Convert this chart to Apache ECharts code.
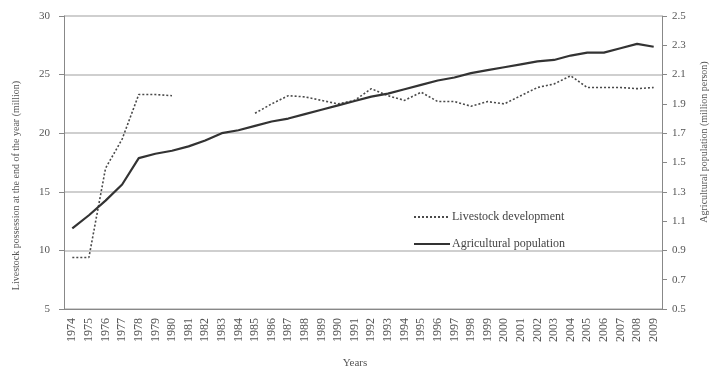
<!DOCTYPE html>
<html>
<head>
<meta charset="utf-8">
<script src="https://cdn.jsdelivr.net/npm/echarts@6/dist/echarts.min.js"></script>
<style>
  html, body { margin: 0; padding: 0; background: #ffffff; }
  #chart { width: 720px; height: 371px; }
</style>
</head>
<body>
<div id="chart"></div>
<script>
// Years on the category axis
const years = ['1974','1975','1976','1977','1978','1979','1980','1981','1982','1983',
  '1984','1985','1986','1987','1988','1989','1990','1991','1992','1993',
  '1994','1995','1996','1997','1998','1999','2000','2001','2002','2003',
  '2004','2005','2006','2007','2008','2009'];

// Livestock (left axis); 1981-1984 have no record
const livestock = [9.4, 9.4, 17.0, 19.5, 23.3, 23.3, 23.2, null, null, null,
  null, 21.7, 22.5, 23.2, 23.1, 22.8, 22.5, 22.8, 23.8, 23.2,
  22.8, 23.5, 22.7, 22.7, 22.3, 22.7, 22.5, 23.2, 23.9, 24.2,
  24.9, 23.9, 23.9, 23.9, 23.8, 23.9];

// Agricultural population (right axis)
const agriPop = [1.05, 1.14, 1.24, 1.35, 1.53, 1.56, 1.58, 1.61, 1.65, 1.70,
  1.72, 1.75, 1.78, 1.80, 1.83, 1.86, 1.89, 1.92, 1.95, 1.97,
  2.00, 2.03, 2.06, 2.08, 2.11, 2.13, 2.15, 2.17, 2.19, 2.20,
  2.23, 2.25, 2.25, 2.28, 2.31, 2.29];

const seriesNames = ['Livestock development', 'Agricultural population'];
const leftTitle = 'Livestock possession at the end of the year (million)';
const rightTitle = 'Agricultural population (million person)';
const xTitle = 'Years';

const serif = '"Liberation Serif", "DejaVu Serif", serif';
const textGray = '#555';
const axisGray = '#888';

const chart = echarts.init(document.getElementById('chart'), null, { renderer: 'canvas' });

chart.setOption({
  animation: false,
  backgroundColor: '#ffffff',
  grid: { left: 64, right: 58, top: 16, bottom: 62 },
  legend: {
    data: seriesNames,
    orient: 'vertical',
    left: 408,
    top: 206,
    itemWidth: 36,
    itemHeight: 10,
    itemGap: 15,
    itemStyle: { color: 'transparent', borderColor: 'transparent', borderWidth: 0 },
    textStyle: { fontFamily: serif, fontSize: 12, color: '#444', padding: [0, 0, 0, -3] }
  },
  graphic: [
    {
      type: 'text',
      left: 11, top: 'middle',
      rotation: Math.PI / 2,
      style: { text: leftTitle, font: '10px ' + serif, fill: textGray }
    },
    {
      type: 'text',
      x: 704, y: 142,
      rotation: Math.PI / 2,
      style: { text: rightTitle, font: '10px ' + serif, fill: textGray, align: 'center', verticalAlign: 'middle' }
    },
    {
      type: 'text',
      x: 355, y: 363,
      style: { text: xTitle, font: '11px ' + serif, fill: textGray, align: 'center', verticalAlign: 'middle' }
    }
  ],
  xAxis: {
    type: 'category',
    data: years,
    boundaryGap: true,
    axisLine: { lineStyle: { color: axisGray, width: 1 } },
    axisTick: { show: false },
    axisLabel: {
      interval: 0,
      rotate: 90,
      margin: 9,
      fontFamily: serif,
      fontSize: 12,
      color: textGray
    },
    splitLine: { show: false }
  },
  yAxis: [
    {
      type: 'value',
      min: 5, max: 30, interval: 5,
      position: 'left',
      axisLine: { show: true, lineStyle: { color: axisGray, width: 1 } },
      axisTick: { show: true, length: 5, lineStyle: { color: axisGray } },
      axisLabel: { fontFamily: serif, fontSize: 11, color: textGray, margin: 14 },
      splitLine: { show: true, lineStyle: { color: '#cfcfcf', width: 2 } }
    },
    {
      type: 'value',
      min: 0.5, max: 2.5, interval: 0.2,
      position: 'right',
      axisLine: { show: true, lineStyle: { color: axisGray, width: 1 } },
      axisTick: { show: true, length: 5, lineStyle: { color: axisGray } },
      axisLabel: {
        fontFamily: serif, fontSize: 11, color: textGray, margin: 10,
        formatter: v => v.toFixed(1)
      },
      splitLine: { show: false }
    }
  ],
  series: [
    {
      name: seriesNames[0],
      type: 'line',
      yAxisIndex: 0,
      data: livestock,
      connectNulls: false,
      symbol: 'none',
      lineStyle: { color: '#4a4a4a', width: 1.6, type: [2, 2] },
      itemStyle: { color: '#4a4a4a' }
    },
    {
      name: seriesNames[1],
      type: 'line',
      yAxisIndex: 1,
      data: agriPop,
      symbol: 'none',
      lineStyle: { color: '#333333', width: 2.2 },
      itemStyle: { color: '#333333' }
    }
  ]
});
</script>
</body>
</html>
